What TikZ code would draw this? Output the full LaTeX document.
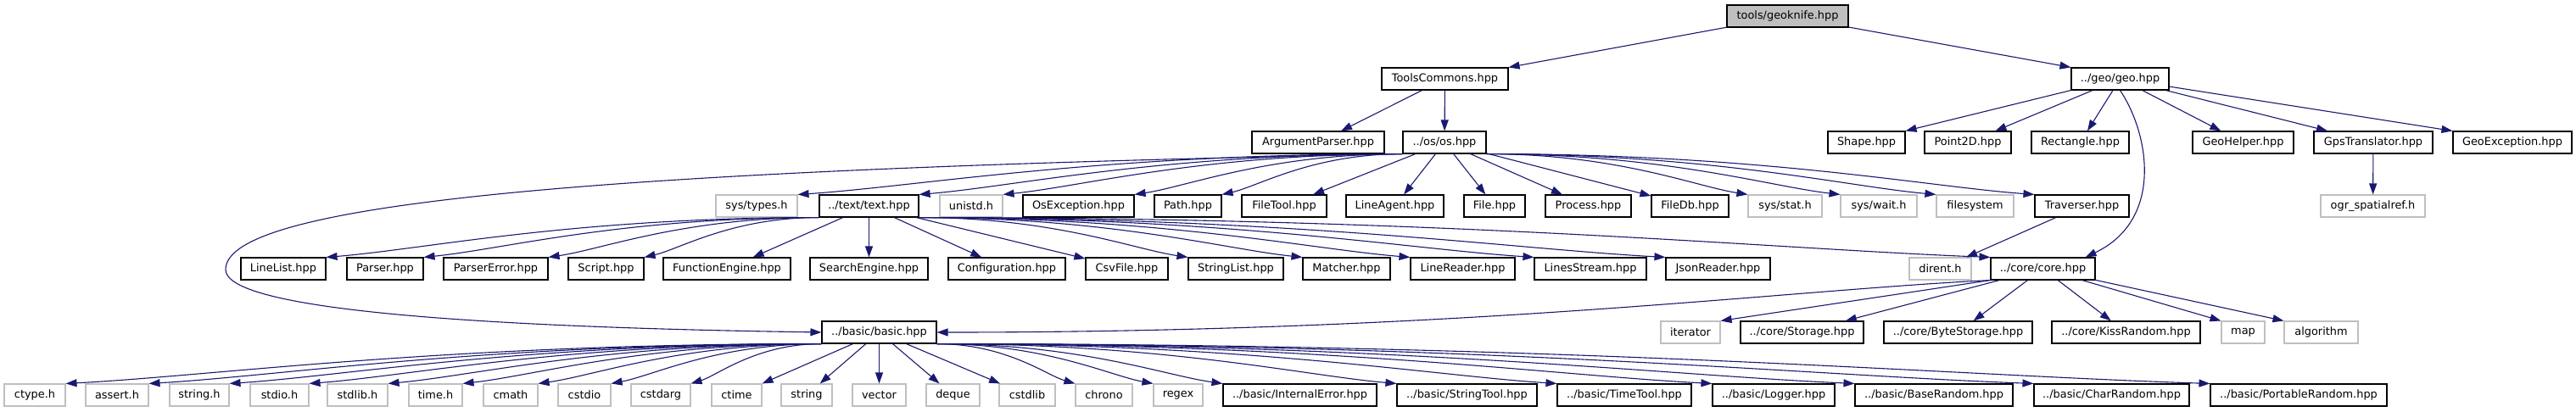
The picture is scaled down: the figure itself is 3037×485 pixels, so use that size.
\documentclass[tikz,border=0pt]{standalone}
\usepackage{fontspec}
\setmainfont{DejaVu Sans}
\usetikzlibrary{arrows.meta,calc}
\definecolor{edgeblue}{HTML}{191970}
\definecolor{extgray}{HTML}{BFBFBF}
\tikzset{
  box/.style={draw=black, fill=white, line width=1.1pt, minimum height=26pt, inner sep=0pt,
    font=\fontsize{12.9}{15}\selectfont},
  extbox/.style={box, draw=extgray},
  rootbox/.style={box, fill=extgray},
  edge/.style={draw=edgeblue, line width=1.1pt, -{Triangle[length=13pt,width=9pt]}}
}
\newcommand\bowedge[2]{\draw[edge] (#1) .. controls ($(#1)!0.5!(#1 -| #2)$) and ($(#1)!0.8!(#2)$) .. (#2);}
\begin{document}
\begin{tikzpicture}[x=1pt,y=-1pt]
\useasboundingbox (0,0) rectangle (3037,485);
% row 0
\node[rootbox, minimum width=143pt] (root) at (2107.5,19) {tools/geoknife.hpp};
% row 1
\node[box, minimum width=149pt] (tc) at (1703.5,93) {ToolsCommons.hpp};
\node[box, minimum width=115pt] (geo) at (2499.5,93) {../geo/geo.hpp};
% row 2
\node[box, minimum width=156pt] (argp) at (1554,168) {ArgumentParser.hpp};
\node[box, minimum width=98pt] (os) at (1703,168) {../os/os.hpp};
\node[box, minimum width=91pt] (shape) at (2200.5,168) {Shape.hpp};
\node[box, minimum width=102pt] (point) at (2320,168) {Point2D.hpp};
\node[box, minimum width=115pt] (rect) at (2452.5,168) {Rectangle.hpp};
\node[box, minimum width=119pt] (geoh) at (2644.5,168) {GeoHelper.hpp};
\node[box, minimum width=140pt] (gps) at (2798,168) {GpsTranslator.hpp};
\node[box, minimum width=140pt] (geoex) at (2962,168) {GeoException.hpp};
% row 3
\node[extbox, minimum width=96pt] (systypes) at (892,243) {sys/types.h};
\node[box, minimum width=117pt] (text) at (1024.5,243) {../text/text.hpp};
\node[extbox, minimum width=74pt] (unistd) at (1145,243) {unistd.h};
\node[box, minimum width=131pt] (osex) at (1271.5,243) {OsException.hpp};
\node[box, minimum width=79pt] (path) at (1400.5,243) {Path.hpp};
\node[box, minimum width=100pt] (filetool) at (1514,243) {FileTool.hpp};
\node[box, minimum width=115pt] (lineagent) at (1644.5,243) {LineAgent.hpp};
\node[box, minimum width=72pt] (file) at (1762,243) {File.hpp};
\node[box, minimum width=101pt] (process) at (1872.5,243) {Process.hpp};
\node[box, minimum width=91pt] (filedb) at (1992.5,243) {FileDb.hpp};
\node[extbox, minimum width=87pt] (sysstat) at (2104.5,243) {sys/stat.h};
\node[extbox, minimum width=90pt] (syswait) at (2215,243) {sys/wait.h};
\node[extbox, minimum width=91pt] (fs) at (2328.5,243) {filesystem};
\node[box, minimum width=111pt] (trav) at (2454.5,243) {Traverser.hpp};
\node[extbox, minimum width=123pt] (ogr) at (2797.5,243) {ogr\_spatialref.h};
% row 4
\node[box, minimum width=100pt] (linelist) at (334,317) {LineList.hpp};
\node[box, minimum width=90pt] (parser) at (454,317) {Parser.hpp};
\node[box, minimum width=123pt] (parsererr) at (584.5,317) {ParserError.hpp};
\node[box, minimum width=89pt] (script) at (714.5,317) {Script.hpp};
\node[box, minimum width=150pt] (funceng) at (857,317) {FunctionEngine.hpp};
\node[box, minimum width=139pt] (searcheng) at (1024.5,317) {SearchEngine.hpp};
\node[box, minimum width=138pt] (config) at (1187,317) {Configuration.hpp};
\node[box, minimum width=97pt] (csv) at (1328.5,317) {CsvFile.hpp};
\node[box, minimum width=112pt] (strlist) at (1457,317) {StringList.hpp};
\node[box, minimum width=103pt] (matcher) at (1587.5,317) {Matcher.hpp};
\node[box, minimum width=123pt] (linereader) at (1724.5,317) {LineReader.hpp};
\node[box, minimum width=132pt] (linesstream) at (1875,317) {LinesStream.hpp};
\node[box, minimum width=123pt] (json) at (2025.5,317) {JsonReader.hpp};
\node[extbox, minimum width=73pt] (dirent) at (2287.5,317) {dirent.h};
\node[box, minimum width=123pt] (core) at (2408.5,317) {../core/core.hpp};
% row 5
\node[box, minimum width=135pt] (basic) at (1036.5,392) {../basic/basic.hpp};
\node[extbox, minimum width=70pt] (iterator) at (1993,392) {iterator};
\node[box, minimum width=145pt] (storage) at (2124.5,392) {../core/Storage.hpp};
\node[box, minimum width=175pt] (bytestorage) at (2308.5,392) {../core/ByteStorage.hpp};
\node[box, minimum width=175pt] (kiss) at (2506.5,392) {../core/KissRandom.hpp};
\node[extbox, minimum width=51pt] (map) at (2644.5,392) {map};
\node[extbox, minimum width=87pt] (algo) at (2736.5,392) {algorithm};
% row 6
\node[extbox, minimum width=72pt] (ctype) at (41,466) {ctype.h};
\node[extbox, minimum width=74pt] (assert) at (138,466) {assert.h};
\node[extbox, minimum width=70pt] (stringh) at (235,466) {string.h};
\node[extbox, minimum width=69pt] (stdio) at (329.5,466) {stdio.h};
\node[extbox, minimum width=71pt] (stdlib) at (421.5,466) {stdlib.h};
\node[extbox, minimum width=63pt] (timeh) at (513.5,466) {time.h};
\node[extbox, minimum width=64pt] (cmath) at (602,466) {cmath};
\node[extbox, minimum width=62pt] (cstdio) at (689,466) {cstdio};
\node[extbox, minimum width=70pt] (cstdarg) at (779,466) {cstdarg};
\node[extbox, minimum width=59pt] (ctime) at (868.5,466) {ctime};
\node[extbox, minimum width=60pt] (string) at (951,466) {string};
\node[extbox, minimum width=63pt] (vector) at (1036.5,466) {vector};
\node[extbox, minimum width=63pt] (deque) at (1123.5,466) {deque};
\node[extbox, minimum width=66pt] (cstdlib) at (1211,466) {cstdlib};
\node[extbox, minimum width=67pt] (chrono) at (1301.5,466) {chrono};
\node[extbox, minimum width=58pt] (regex) at (1389,466) {regex};
\node[box, minimum width=181pt] (interr) at (1532.5,466) {../basic/InternalError.hpp};
\node[box, minimum width=165pt] (strtool) at (1729.5,466) {../basic/StringTool.hpp};
\node[box, minimum width=158pt] (timetool) at (1915,466) {../basic/TimeTool.hpp};
\node[box, minimum width=144pt] (logger) at (2091,466) {../basic/Logger.hpp};
\node[box, minimum width=186pt] (baserand) at (2280,466) {../basic/BaseRandom.hpp};
\node[box, minimum width=183pt] (charrand) at (2489.5,466) {../basic/CharRandom.hpp};
\node[box, minimum width=208pt] (portrand) at (2710,466) {../basic/PortableRandom.hpp};
% edges: top
\draw[edge] (root) -- (tc.north east);
\draw[edge] (root) -- (geo.north west);
\draw[edge] (tc) -- (argp);
\draw[edge] (tc) -- (os);
% geo
\draw[edge] (geo.south west) -- (shape.north east);
\foreach \t in {point,rect,geoh,gps} {\draw[edge] (geo) -- (\t);}
\draw[edge] (geo) -- (geoex.north west);
\coordinate (coretop) at ($(core.north east)+(-12,0)$);
\draw[edge] (geo.south) .. controls (2535,160) and (2550,260) .. (coretop);
\draw[edge] (gps) -- (ogr);
% os
\foreach \t in {systypes,text,unistd,osex,path}
  {\bowedge{os.south west}{\t.north east}}
\foreach \t in {filetool,lineagent,file,process,filedb}
  {\draw[edge] (os) -- (\t);}
\foreach \t in {sysstat,syswait,fs,trav}
  {\bowedge{os.south east}{\t.north west}}
\coordinate (loop) at (266,318);
\draw[edge] (os.south west) .. controls (700,200) and (266,240) .. (loop)
  .. controls (266,360) and (500,385) .. (basic.west);
% text
\foreach \t in {linelist,parser,parsererr,script}
  {\bowedge{text.south west}{\t.north east}}
\foreach \t in {funceng,searcheng,config,csv}
  {\draw[edge] (text) -- (\t);}
\foreach \t in {strlist,matcher,linereader,linesstream,json,core}
  {\bowedge{text.south east}{\t.north west}}
\draw[edge] (trav) -- (dirent);
% core
\draw[edge] (core.south west) .. controls ($(core.south west)!0.2!(basic.east)$)
  and ($(basic.east)!0.5!(basic.east -| core.south west)$) .. (basic.east);
\draw[edge] (core.south west) -- (iterator.north east);
\foreach \t in {storage,bytestorage,kiss}
  {\draw[edge] (core) -- (\t);}
\draw[edge] (core) -- (map.north west);
\draw[edge] (core) -- (algo.north west);
% basic
\foreach \t in {ctype,assert,stringh,stdio,stdlib,timeh,cmath,cstdio,cstdarg}
  {\bowedge{basic.south west}{\t.north east}}
\draw[edge] (basic) -- (ctime.north east);
\foreach \t in {string,vector,deque,cstdlib}
  {\draw[edge] (basic) -- (\t);}
\foreach \t in {chrono,regex,interr,strtool,timetool,logger,baserand,charrand,portrand}
  {\bowedge{basic.south east}{\t.north west}}
\end{tikzpicture}
\end{document}
